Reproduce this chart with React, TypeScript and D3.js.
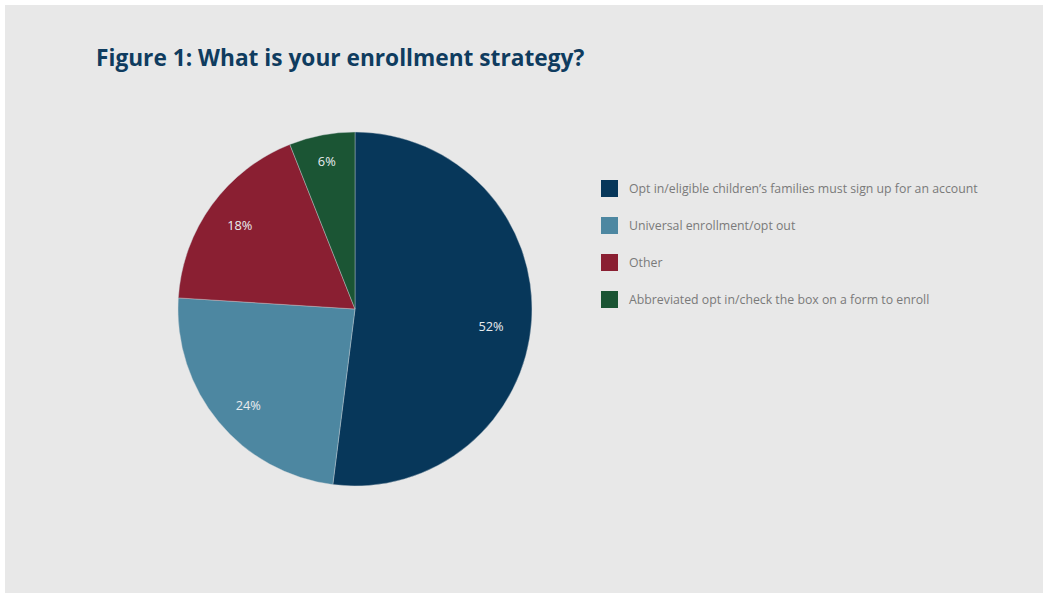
import React from "react";
import * as d3 from "d3";

const categories = [
  "Opt in/eligible children\u2019s families must sign up for an account",
  "Universal enrollment/opt out",
  "Other",
  "Abbreviated opt in/check the box on a form to enroll",
];
const values = [52, 24, 18, 6];
const colors = ["#07375a", "#4d87a1", "#8a1f32", "#1b5534"];
const title = "Figure 1: What is your enrollment strategy?";

const W = 1047;
const H = 597;
const cx = 355;
const cy = 309;
const R = 177;

export default function App() {
  const pie = d3.pie<number>().sort(null).value((d) => d);
  const arcs = pie(values);
  const arcGen = d3.arc<d3.PieArcDatum<number>>().innerRadius(0).outerRadius(R);
  const total = d3.sum(values);

  return (
    <div style={{ position: "absolute", left: 0, top: 0 }}>
      <svg width={W} height={H} style={{ display: "block" }} fontFamily="'Open Sans', sans-serif">
        <rect x={0} y={0} width={W} height={H} fill="#ffffff" />
        <rect x={5} y={5} width={1038} height={588} fill="#e8e8e8" />
        <text x={96} y={66} fontSize={22.7} fontWeight={700} fill="#0f3c5f">
          {title}
        </text>
        <g transform={`translate(${cx},${cy})`}>
          {arcs.map((a, i) => (
            <path key={i} d={arcGen(a) || ""} fill={colors[i]} stroke="#c9d1d6" strokeWidth={0.4} />
          ))}
          {arcs.map((a, i) => {
            const frac = a.value / total;
            const lr = R * Math.max(0.77, 0.8725 - 0.375 * frac);
            const [x, y] = d3.arc<d3.PieArcDatum<number>>().innerRadius(lr).outerRadius(lr).centroid(a);
            const mid = (a.startAngle + a.endAngle) / 2;
            const dy = Math.cos(mid) < 0 ? 8 : 0;
            return (
              <text
                key={i}
                x={x}
                y={y + dy}
                textAnchor="middle"
                dominantBaseline="central"
                fontSize={12.8}
                fill="#e9ecef"
              >
                {`${d3.format(".0f")(a.value)}%`}
              </text>
            );
          })}
        </g>
        <g transform="translate(601,180)">
          {categories.map((c, i) => (
            <g key={i} transform={`translate(0,${i * 37})`}>
              <rect x={0} y={0} width={17} height={17} fill={colors[i]} />
              <text x={28} y={8} dominantBaseline="central" fontSize={12.3} fill="#7a7a7a">
                {c}
              </text>
            </g>
          ))}
        </g>
      </svg>
    </div>
  );
}
